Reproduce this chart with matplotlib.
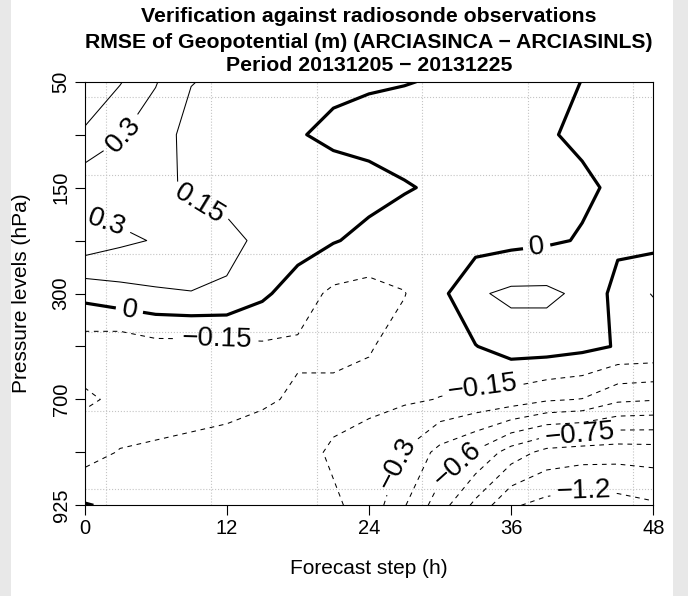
import numpy as np
import matplotlib
matplotlib.use('Agg')
import matplotlib.pyplot as plt
from matplotlib.patches import Rectangle

plt.rcParams['font.family'] = ['Liberation Sans', 'DejaVu Sans']

# forecast steps (h) and pressure levels (hPa), top to bottom
steps = [0, 3, 6, 9, 12, 15, 18, 21, 24, 27, 30, 33, 36, 39, 42, 45, 48]
plevels = ['50', '100', '150', '250', '300', '500', '700', '850', '925']
ytick_labels = ['50', '', '150', '', '300', '', '700', '', '925']
xticks = [0, 12, 24, 36, 48]

# RMSE difference (m), one row per pressure level
p50 = [0.55, 0.46, 0.31, 0.155, 0.12, 0.10, 0.07, 0.03, 0.015, 0.005, -0.01, -0.05, -0.06, -0.04, 0.002, 0.04, 0.05]
p100 = [0.432, 0.31, 0.22, 0.10, 0.08, 0.06, 0.01, -0.03, -0.05, -0.06, -0.08, -0.10, -0.08, -0.01, 0.02, 0.04, 0.05]
p150 = [0.188, 0.21, 0.20, 0.12, 0.10, 0.09, 0.08, 0.07, 0.05, 0.01, -0.02, -0.05, -0.07, -0.05, -0.02, 0.02, 0.04]
p250 = [0.40, 0.33, 0.29, 0.25, 0.19, 0.12, 0.07, 0.01, -0.04, -0.07, -0.08, -0.06, -0.04, -0.02, 0.01, 0.03, 0.05]
p300 = [0.05, 0.10, 0.13, 0.145, 0.13, 0.03, -0.08, -0.18, -0.20, -0.155, -0.04, 0.13, 0.18, 0.18, 0.12, -0.051, -0.16]
p500 = [-0.23, -0.25, -0.20, -0.20, -0.19, -0.17, -0.17, -0.20, -0.16, -0.10, -0.06, -0.005, 0.07, 0.07, 0.04, -0.01, -0.02]
p700 = [-0.32, -0.275, -0.25, -0.23, -0.21, -0.17, -0.13, -0.10, -0.11, -0.13, -0.155, -0.19, -0.22, -0.28, -0.305, -0.42, -0.44]
p850 = [-0.215, -0.14, -0.12, -0.10, -0.08, -0.07, -0.10, -0.17, -0.22, -0.31, -0.50, -0.62, -0.82, -0.95, -0.98, -0.99, -0.98]
p925 = [0.01, -0.03, -0.05, -0.06, -0.07, -0.08, -0.10, -0.13, -0.20, -0.44, -0.68, -0.94, -1.18, -1.25, -1.28, -1.26, -1.22]

clevels = [-1.2, -1.05, -0.9, -0.75, -0.6, -0.45, -0.3, -0.15, 0, 0.15, 0.3, 0.45]

# where the contour labels sit (step, level index counted from the top)
label_pos = [(3.2, 1.0), (2.2, 2.45), (9.8, 2.25), (3.8, 4.3), (11.2, 4.95),
             (38.2, 3.2), (33.6, 5.8), (26.3, 7.2), (31.6, 7.25), (41.8, 6.68), (42.1, 7.75)]

# dotted grid (level index counted from the top)
xgrid = [1.8, 10.7, 19.6, 28.5, 37.4, 46.3]
ygrid = [0.28, 1.77, 3.25, 4.72, 6.21, 7.69]


def fmt(v):
    return f'{v:g}'.replace('-', '\u2212')


def main():
    n = len(plevels)
    # bottom level first so the y axis runs upward without inverting it
    z = np.array([p50, p100, p150, p250, p300, p500, p700, p850, p925])[::-1]
    x = np.array(steps)
    y = np.arange(n)
    top = n - 1

    fig = plt.figure(figsize=(6.88, 5.96), dpi=100)
    fig.patch.set_facecolor('#e8e8e8')
    fig.patches.append(Rectangle((11 / 688, 0), 662 / 688, 1, transform=fig.transFigure,
                                 facecolor='white', edgecolor='none', zorder=-10))

    ax = fig.add_axes([84.5 / 688, 1 - 505.3 / 596, 568.8 / 688, 423.6 / 596])

    for g in xgrid:
        ax.axvline(g, color='#c4c4c4', lw=0.8, ls=':', zorder=0)
    for g in ygrid:
        ax.axhline(top - g, color='#c4c4c4', lw=0.8, ls=':', zorder=0)

    lws = [2.3 if lv == 0 else 0.75 for lv in clevels]
    lss = ['solid' if lv >= 0 else (0, (4.5, 4.5)) for lv in clevels]
    cs = ax.contour(x, y, z, levels=clevels, colors='k', linewidths=lws, linestyles=lss)
    ax.clabel(cs, clevels, manual=[(px, top - py) for px, py in label_pos],
              inline=True, inline_spacing=6, fmt=fmt, fontsize=20)

    ax.set_xlim(0, 48)
    ax.set_ylim(0, top)
    ax.set_xticks(xticks)
    ax.set_yticks(y)
    ax.set_yticklabels(ytick_labels[::-1], rotation=90, va='center')
    ax.tick_params(direction='out', length=7, width=0.8, labelsize=14.5)
    ax.tick_params(axis='x', pad=3)
    ax.tick_params(axis='y', pad=3)
    for s in ax.spines.values():
        s.set_linewidth(0.8)

    ax.set_xlabel('Forecast step (h)', fontsize=15, labelpad=15)
    ax.set_ylabel('Pressure levels (hPa)', fontsize=15, labelpad=15)

    cx = (84.5 + 568.8 / 2) / 688
    fig.text(cx, 1 - 22.5 / 596, 'Verification against radiosonde observations',
             ha='center', va='baseline', fontsize=15.3, fontweight='bold')
    fig.text(cx, 1 - 47.5 / 596, 'RMSE of Geopotential (m) (ARCIASINCA \u2212 ARCIASINLS)',
             ha='center', va='baseline', fontsize=15.3, fontweight='bold')
    fig.text(cx, 1 - 71 / 596, 'Period 20131205 \u2212 20131225',
             ha='center', va='baseline', fontsize=15.3, fontweight='bold')

    fig.savefig('out.png', dpi=100, facecolor=fig.get_facecolor())


if __name__ == "__main__":
    main()
